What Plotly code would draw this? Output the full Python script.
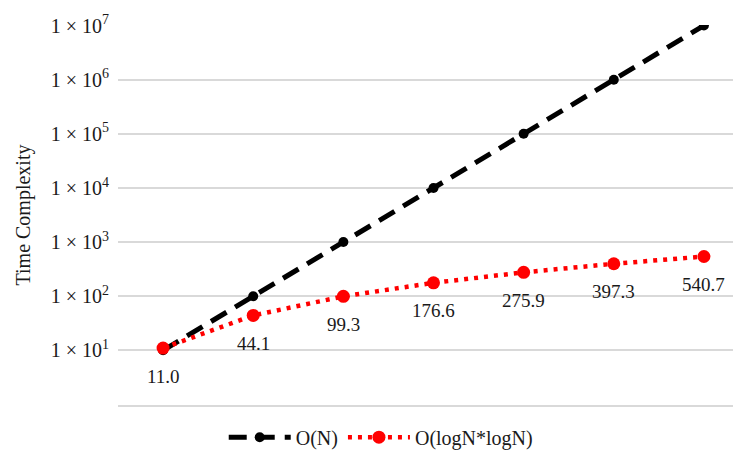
import math
import plotly.graph_objects as go

categories = ["1", "2", "3", "4", "5", "6", "7"]
on_values = [1e1, 1e2, 1e3, 1e4, 1e5, 1e6, 1e7]
log_values = [11.0, 44.1, 99.3, 176.6, 275.9, 397.3, 540.7]
tick_vals = [1, 1e1, 1e2, 1e3, 1e4, 1e5, 1e6, 1e7]
tick_text = ["", "1 × 10<sup>1</sup>", "1 × 10<sup>2</sup>", "1 × 10<sup>3</sup>",
             "1 × 10<sup>4</sup>", "1 × 10<sup>5</sup>", "1 × 10<sup>6</sup>", "1 × 10<sup>7</sup>"]

FONT = "Liberation Serif"
TXT = "#1a1a1a"

fig = go.Figure()
fig.add_trace(go.Scatter(
    x=categories, y=on_values, name="O(N)", mode="lines+markers",
    line=dict(color="black", width=5, dash="18px,10px"),
    marker=dict(color="black", size=10),
))
fig.add_trace(go.Scatter(
    x=categories, y=log_values, name="O(logN*logN)", mode="lines+markers",
    line=dict(color="#ff0000", width=4.5, dash="4px,6px"),
    marker=dict(color="#ff0000", size=13),
))
for i, v in enumerate(log_values):
    fig.add_annotation(x=i, y=math.log10(v), xref="x", yref="y", text=f"{v:.1f}",
                       showarrow=False, yshift=-28,
                       font=dict(family=FONT, size=19, color=TXT))

fig.update_layout(
    width=741, height=459,
    margin=dict(l=110, r=0, t=17, b=62, autoexpand=False),
    paper_bgcolor="white", plot_bgcolor="white",
    font=dict(family=FONT, size=19, color=TXT),
    showlegend=True,
    legend=dict(orientation="h", xref="container", yref="container",
                x=0.503, y=0.065, xanchor="center", yanchor="middle",
                itemwidth=62,
                font=dict(family=FONT, size=20, color=TXT)),
    xaxis=dict(type="category", range=[-0.5, 6.5], showticklabels=False,
               showgrid=False, zeroline=False, showline=True,
               linecolor="#d9d9d9", linewidth=1.5, ticks=""),
    yaxis=dict(type="log", range=[-0.01, 7.01], tickvals=tick_vals, ticktext=tick_text,
               showgrid=True, gridcolor="#d9d9d9", gridwidth=1.5, zeroline=False,
               showline=False, ticks="", ticklabelstandoff=8, automargin=False,
               tickfont=dict(family=FONT, size=20, color=TXT),
               title=dict(text="Time Complexity", standoff=14,
                          font=dict(family=FONT, size=20, color=TXT))),
)

fig.write_html("out.html")
